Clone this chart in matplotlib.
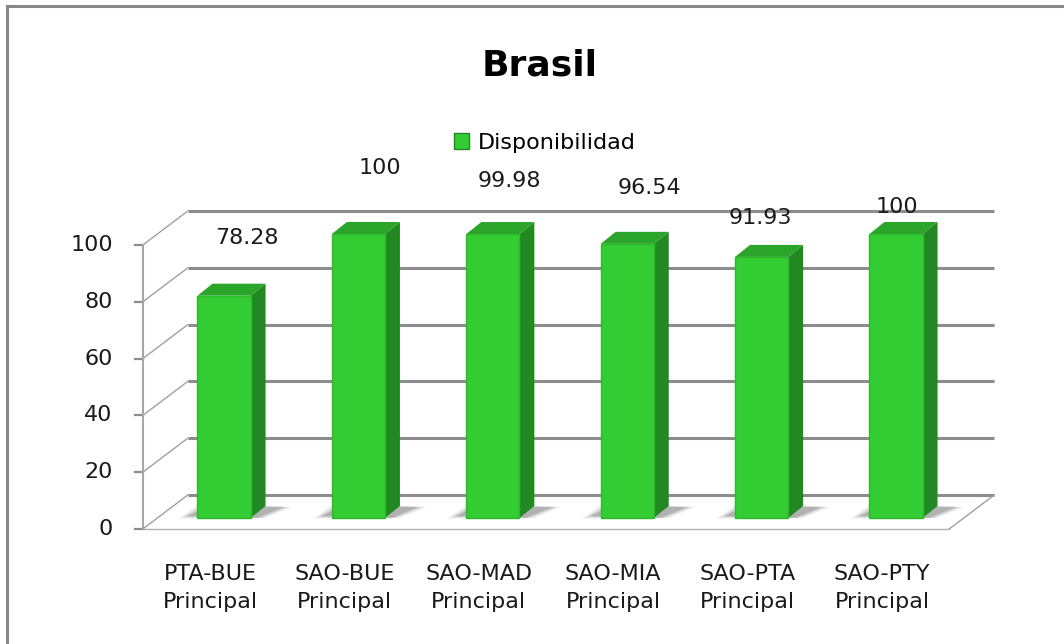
import matplotlib.pyplot as plt
from matplotlib.patches import Polygon, Patch
from matplotlib.lines import Line2D

# data
categories = ['PTA-BUE\nPrincipal', 'SAO-BUE\nPrincipal', 'SAO-MAD\nPrincipal',
              'SAO-MIA\nPrincipal', 'SAO-PTA\nPrincipal', 'SAO-PTY\nPrincipal']
values = [78.28, 100, 99.98, 96.54, 91.93, 100]
value_text = ['78.28', '100', '99.98', '96.54', '91.93', '100']
yticks = [0, 20, 40, 60, 80, 100]
series_name = 'Disponibilidad'

# label nudges (pixels), the original chart places them unevenly
label_dx = [23, 21, 17, 22, -1, 1]
label_dy = [58, 66, 53, 56, 39, 27]

green = '#33cc33'
green_side = '#228822'
green_top = '#2aa52a'
grid_col = '#8c8c8c'

plt.rcParams['font.family'] = ['DejaVu Sans']

W, H = 1064, 644
fig = plt.figure(figsize=(W / 100, H / 100), dpi=100)
ax = fig.add_axes([156.8 / W, (H - 518) / H, 806.4 / W, 284 / H])
ax.set_xlim(-0.5, len(values) - 0.5)
ax.set_ylim(0, 100)
ax.axis('off')

# pixel -> data conversion
p0 = ax.transData.transform((0, 0))
sx = ax.transData.transform((1, 0))[0] - p0[0]
sy = ax.transData.transform((0, 1))[1] - p0[1]


def off(dx, dy):
    return dx / sx, dy / sy


fx, fy = off(-14, -11)   # front plane
bx, by = off(31, 23)     # back wall
dx, dy = off(15, 12)     # bar depth
xl, xr = -0.5, len(values) - 0.5

# back wall gridlines + left wall depth lines
for v in yticks:
    ax.plot([xl + bx, xr + bx], [v + by, v + by], color=grid_col, lw=2.2, zorder=1,
            clip_on=False, solid_capstyle='butt')
    ax.plot([xl + fx, xl + bx], [v + fy, v + by], color='#a0a0a0', lw=1, zorder=1,
            clip_on=False)
    ax.plot([xl + fx, xl + fx - 8 / sx], [v + fy, v + fy], color=grid_col, lw=1.6,
            clip_on=False, zorder=2)
    ax.text(xl + fx - 30 / sx, v + fy, str(v), ha='right', va='center',
            fontsize=16, color='#1a1a1a', clip_on=False)

# front axis line and floor edges
ax.plot([xl + fx, xl + fx], [fy, 100 + fy], color='#a6a6a6', lw=1.5, clip_on=False, zorder=2)
ax.plot([xl + fx, xr + fx], [fy, fy], color='#b0b0b0', lw=1, clip_on=False, zorder=1)
ax.plot([xr + fx, xr + bx], [fy, by], color='#a0a0a0', lw=1, clip_on=False, zorder=1)

# bars
w = 0.395
for i, v in enumerate(values):
    x0, x1 = i - w / 2, i + w / 2
    # soft shadow on floor
    for k, a in enumerate([0.06, 0.09, 0.12, 0.16]):
        g = (3 - k) * 3
        ax.add_patch(Polygon([(x0 - (10 + g) / sx, (2 - g * 0.3) / sy),
                              (x1 + (6 + g) / sx, 0),
                              (x1 + dx + (18 + g) / sx, dy - 1 / sy),
                              (x0 + dx - (4 + g) / sx, dy + (g * 0.3) / sy)],
                             closed=True, color='#303030', alpha=a, lw=0, zorder=2,
                             clip_on=False))
    ax.add_patch(Polygon([(x1, 0), (x1 + dx, dy), (x1 + dx, v + dy), (x1, v)],
                         closed=True, fc=green_side, ec='none', zorder=3, clip_on=False))
    ax.add_patch(Polygon([(x0, v), (x1, v), (x1 + dx, v + dy), (x0 + dx, v + dy)],
                         closed=True, fc=green_top, ec='none', zorder=3, clip_on=False))
ax.bar(range(len(values)), values, width=w, color=green, edgecolor='#2fb82f',
       linewidth=1, zorder=4, clip_on=False)

# value labels
for i, v in enumerate(values):
    ax.text(i + label_dx[i] / sx, v + label_dy[i] / sy, value_text[i], ha='center',
            va='center', fontsize=16, color='#1a1a1a', zorder=6, clip_on=False)

# category labels
for i, c in enumerate(categories):
    ax.text(i + fx, fy - 59 / sy, c, ha='center', va='center', fontsize=16,
            color='#1a1a1a', linespacing=1.45, clip_on=False)

# title and legend
fig.text(540 / W, 1 - 66 / H, 'Brasil', ha='center', va='center', fontsize=26,
         fontweight='bold')
fig.legend(handles=[Patch(facecolor=green, edgecolor='#1f8a1f', lw=1)],
           labels=[series_name], loc='center', bbox_to_anchor=(545 / W, 1 - 143 / H),
           frameon=False, handlelength=0.7, handleheight=0.7, handletextpad=0.4,
           fontsize=16)

# chart border (top and left only visible)
fig.add_artist(Line2D([7 / W, 1], [1 - 6 / H, 1 - 6 / H], color='#888888', lw=2.2,
                      transform=fig.transFigure))
fig.add_artist(Line2D([7 / W, 7 / W], [0, 1 - 6 / H], color='#888888', lw=2.2,
                      transform=fig.transFigure))

fig.savefig('out.png', dpi=100, facecolor='white')
